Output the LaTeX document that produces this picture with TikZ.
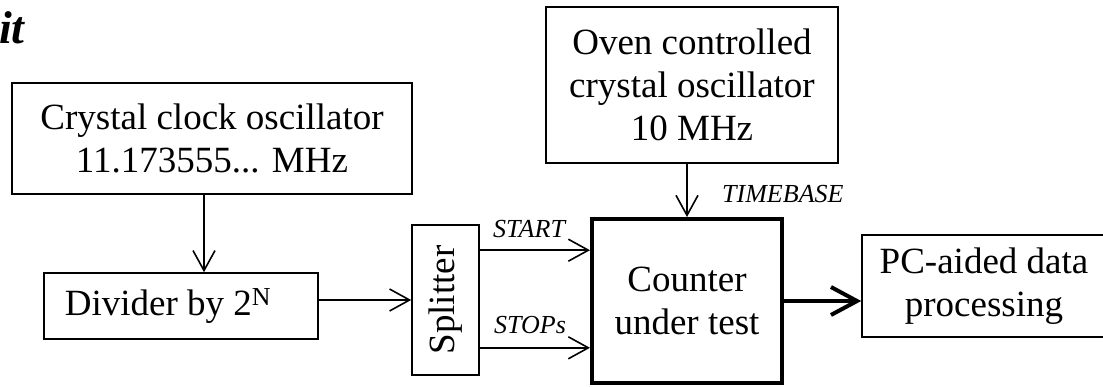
\documentclass[tikz,border=0pt]{standalone}
\usepackage{fontspec}
\setmainfont{Liberation Serif}
\usetikzlibrary{positioning,arrows.meta,calc}

\begin{document}
\begin{tikzpicture}[
    x=1pt, y=-1pt,
    block/.style={rectangle, draw=black, line width=1.6pt, inner sep=0pt, align=center,
        font=\fontsize{37}{43}\selectfont},
    signal/.style={inner sep=0pt, font=\fontsize{26}{30}\selectfont\itshape},
    link/.style={line width=1.6pt, -{Straight Barb[length=20pt,width=22pt]}},
    output/.style={line width=4pt, -{Straight Barb[length=26pt,width=28pt]}},
]
\useasboundingbox (0,0) rectangle (1103,386);

\node[anchor=base west, inner sep=0pt, font=\fontsize{46}{50}\selectfont\bfseries\itshape] (title) at (-1,43) {it};

\node[block, minimum width=400pt, minimum height=111pt] (crystal) at (212,138.5)
    {Crystal clock oscillator\\11.173555... MHz};
\node[block, minimum width=274pt, minimum height=66pt] (divider) at (181,306)
    {Divider by 2\textsuperscript{N}\hspace{26pt}};
\node[block, minimum width=67pt, minimum height=150pt] (splitter) at (445.5,300)
    {\rotatebox{90}{Splitter}};
\node[block, line width=4pt, minimum width=190pt, minimum height=164pt] (counter) at (687,301)
    {Counter\\under test};
\node[block, minimum width=292pt, minimum height=156pt] (oven) at (692,85)
    {Oven controlled\\crystal oscillator\\10 MHz};
\node[block, minimum width=244pt, minimum height=102pt] (pc) at (984,286)
    {PC-aided data\\processing};

% connectors
\draw[link] ([xshift=-8pt]crystal.south) -- ([xshift=-8pt]crystal.south |- divider.north);
\draw[link] (splitter.west -| divider.east) -- (splitter.west);
\draw[link] ([yshift=-26pt]splitter.north east) -- ([yshift=-26pt]splitter.north east -| counter.west);
\draw[link] ([yshift=28pt]splitter.south east) -- ([yshift=28pt]splitter.south east -| counter.west);
\draw[link] (oven.south -| counter.north) -- (counter.north);
\draw[output] (counter.east) -- (counter.east -| pc.west);

% signal names
\node[signal, anchor=base west] (start) at (493,237) {START};
\node[signal, anchor=base west] (stops) at (494,333) {STOPs};
\node[signal, anchor=base west] (timebase) at (722,202) {TIMEBASE};
\end{tikzpicture}
\end{document}
